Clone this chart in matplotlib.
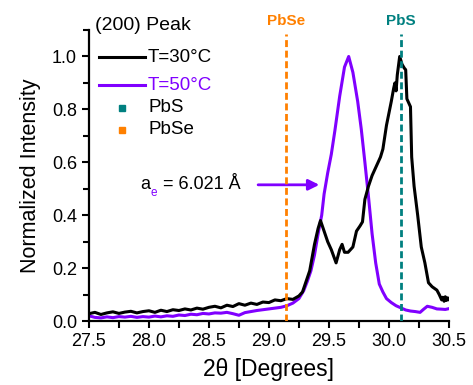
import numpy as np
import matplotlib
matplotlib.use("Agg")
import matplotlib.pyplot as plt
from matplotlib.lines import Line2D

plt.rcParams['font.family'] = ['Liberation Sans', 'DejaVu Sans']

# T=30C scan (black)
x30 = [27.50, 27.55, 27.60, 27.65, 27.70, 27.75, 27.80, 27.85, 27.90, 27.95,
       28.00, 28.05, 28.10, 28.15, 28.20, 28.25, 28.30, 28.35, 28.40, 28.45,
       28.50, 28.55, 28.60, 28.65, 28.70, 28.75, 28.80, 28.85, 28.90, 28.95,
       29.00, 29.05, 29.10, 29.15, 29.20, 29.25, 29.28, 29.31, 29.34, 29.36,
       29.38, 29.41, 29.43, 29.46, 29.49, 29.52, 29.56, 29.59, 29.61, 29.63,
       29.66, 29.70, 29.73, 29.76, 29.78, 29.80, 29.83, 29.86, 29.90, 29.93,
       29.95, 29.98, 30.02, 30.04, 30.05, 30.06, 30.07, 30.09, 30.11, 30.13,
       30.14, 30.15, 30.17, 30.18, 30.19, 30.21, 30.24, 30.27, 30.30, 30.33,
       30.36, 30.40, 30.42, 30.44, 30.45, 30.46, 30.47, 30.48, 30.49, 30.50]
y30 = [0.028, 0.033, 0.025, 0.031, 0.035, 0.029, 0.034, 0.037, 0.031, 0.036,
       0.039, 0.033, 0.041, 0.036, 0.043, 0.040, 0.046, 0.042, 0.049, 0.045,
       0.052, 0.056, 0.050, 0.060, 0.055, 0.066, 0.060, 0.068, 0.063, 0.072,
       0.070, 0.080, 0.077, 0.085, 0.082, 0.095, 0.11, 0.15, 0.19, 0.24,
       0.29, 0.35, 0.38, 0.34, 0.30, 0.27, 0.22, 0.27, 0.29, 0.26,
       0.26, 0.28, 0.34, 0.36, 0.375, 0.46, 0.51, 0.55, 0.59, 0.62,
       0.65, 0.74, 0.83, 0.88, 0.90, 0.87, 0.93, 1.0, 0.97, 0.955,
       0.95, 0.84, 0.82, 0.81, 0.62, 0.51, 0.40, 0.28, 0.22, 0.145,
       0.13, 0.117, 0.10, 0.08, 0.09, 0.075, 0.092, 0.078, 0.088, 0.082]

# T=50C scan (purple)
x50 = [27.50, 27.55, 27.60, 27.65, 27.70, 27.75, 27.80, 27.85, 27.90, 27.95,
       28.00, 28.05, 28.10, 28.15, 28.20, 28.25, 28.30, 28.35, 28.40, 28.45,
       28.50, 28.55, 28.60, 28.65, 28.70, 28.75, 28.80, 28.85, 28.90, 28.95,
       29.00, 29.05, 29.10, 29.15, 29.20, 29.25, 29.29, 29.32, 29.35, 29.38,
       29.41, 29.44, 29.46, 29.49, 29.52, 29.55, 29.59, 29.63, 29.665, 29.70,
       29.74, 29.77, 29.80, 29.83, 29.86, 29.89, 29.92, 29.95, 29.98, 30.02,
       30.06, 30.10, 30.14, 30.18, 30.22, 30.26, 30.29, 30.32, 30.36, 30.40,
       30.44, 30.47, 30.50]
y50 = [0.020, 0.014, 0.012, 0.016, 0.013, 0.017, 0.015, 0.018, 0.014, 0.017,
       0.015, 0.019, 0.016, 0.020, 0.018, 0.023, 0.021, 0.026, 0.024, 0.029,
       0.027, 0.031, 0.030, 0.033, 0.028, 0.022, 0.032, 0.036, 0.040, 0.043,
       0.046, 0.049, 0.052, 0.058, 0.068, 0.085, 0.115, 0.15, 0.19, 0.25,
       0.33, 0.40, 0.48, 0.56, 0.63, 0.72, 0.85, 0.96, 1.0, 0.94,
       0.83, 0.725, 0.60, 0.47, 0.33, 0.22, 0.14, 0.11, 0.085, 0.07,
       0.058, 0.050, 0.042, 0.038, 0.036, 0.033, 0.045, 0.056, 0.052, 0.046,
       0.045, 0.044, 0.047]

ref_names = ['PbSe', 'PbS']
ref_pos = [29.14, 30.10]
ref_colors = ['#FF8000', '#008080']

purple = '#8000FF'

W, H = 473, 385
def fpx(px, py):
    # pixel position -> figure fraction
    return px / W, 1 - py / H

fig = plt.figure(figsize=(4.73, 3.85), dpi=100)
ax = fig.add_axes([0.188, 0.166, 0.761, 0.756])

ax.plot(x50, y50, color=purple, lw=2.2)
ax.plot(x30, y30, color='black', lw=2.2)

for name, pos, c in zip(ref_names, ref_pos, ref_colors):
    ax.plot([pos, pos], [0, 1.085], color=c, lw=2, dashes=(2.5, 1.3), zorder=5)
    ax.text(pos, 1.135, name, color=c, fontsize=11, fontweight='bold',
            ha='center', va='center', clip_on=False)

# lattice constant note
ax.annotate('', xy=(29.42, 0.515), xytext=(28.91, 0.515),
            arrowprops=dict(arrowstyle='-|>', color=purple, lw=2,
                            mutation_scale=16, shrinkA=0, shrinkB=0))
ax.text(27.93, 0.515, 'a', fontsize=13, ha='left', va='center')
ax.text(28.01, 0.483, 'e', fontsize=8.5, color=purple, ha='left', va='center')
ax.text(28.12, 0.515, '= 6.021 Å', fontsize=13, ha='left', va='center')

ax.set_xlim(27.5, 30.5)
ax.set_ylim(0, 1.1)
ax.set_xticks(np.arange(27.5, 30.51, 0.5))
ax.set_xticks(np.arange(27.5, 30.51, 0.25), minor=True)
ax.set_yticks(np.arange(0, 1.01, 0.2))
ax.set_yticks(np.arange(0, 1.11, 0.1), minor=True)
ax.set_xticklabels(['27.5', '28.0', '28.5', '29.0', '29.5', '30.0', '30.5'])
ax.set_yticklabels(['0.0', '0.2', '0.4', '0.6', '0.8', '1.0'])
ax.tick_params(which='both', direction='out', width=1.5, labelsize=13)
ax.tick_params(which='major', length=5)
ax.tick_params(which='minor', length=4)
ax.tick_params(axis='x', which='both', length=5)
for s in ['top', 'right']:
    ax.spines[s].set_visible(False)
for s in ['left', 'bottom']:
    ax.spines[s].set_linewidth(1.6)

ax.set_xlabel('2θ [Degrees]', fontsize=16.5, labelpad=6)
ax.set_ylabel('Normalized Intensity', fontsize=15.5, labelpad=8)

# legend drawn by hand
fig.text(*fpx(95, 25), '(200) Peak', fontsize=14, ha='left', va='center')
leg_labels = ['T=30°C', 'T=50°C', 'PbS', 'PbSe']
leg_colors = ['black', purple, '#008080', '#FF8000']
leg_text_colors = ['black', purple, 'black', 'black']
leg_y = [57, 85, 108, 130]
for i, (lab, c, tc, py) in enumerate(zip(leg_labels, leg_colors, leg_text_colors, leg_y)):
    if i < 2:
        x1, y1 = fpx(99, py)
        x2, _ = fpx(145, py)
        fig.add_artist(Line2D([x1, x2], [y1, y1], color=c, lw=2.2,
                              transform=fig.transFigure))
    else:
        xm, ym = fpx(122, py)
        fig.add_artist(Line2D([xm], [ym], color=c, marker='s', ms=5, ls='none',
                              transform=fig.transFigure))
    fig.text(*fpx(148, py), lab, color=tc, fontsize=13.5, ha='left', va='center')

fig.savefig('out.png', dpi=100)
